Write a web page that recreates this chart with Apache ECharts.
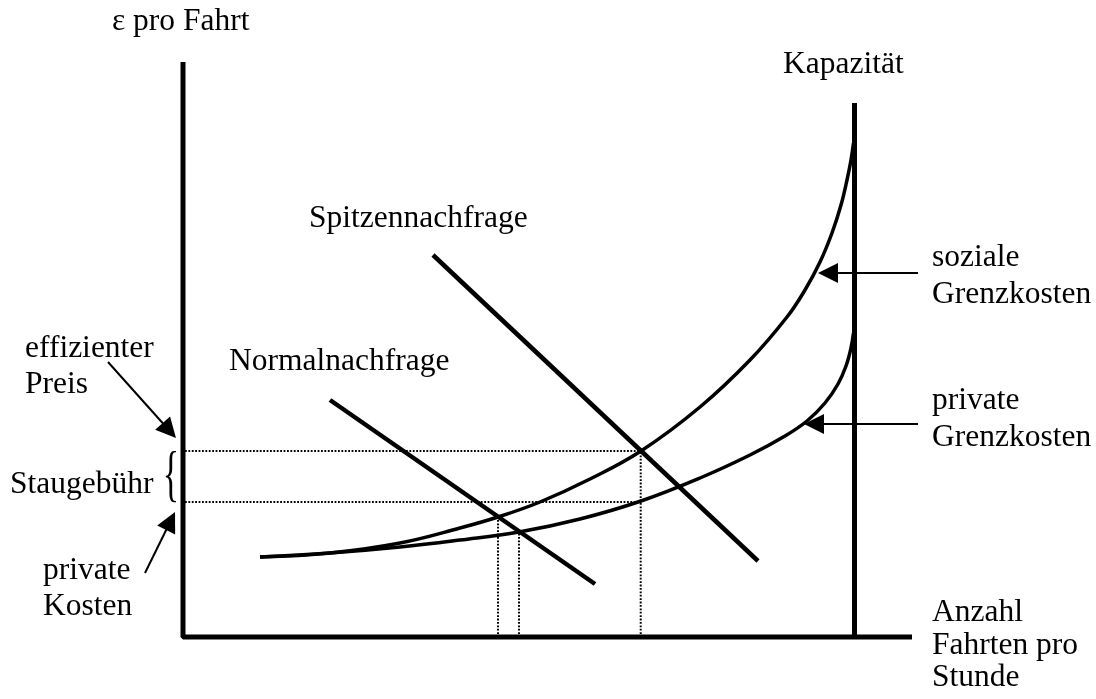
<!DOCTYPE html>
<html>
<head>
<meta charset="utf-8">
<script src="https://cdn.jsdelivr.net/npm/echarts@6/dist/echarts.min.js"></script>
<style>
  html, body { margin: 0; padding: 0; background: #fff; }
  #chart { width: 1096px; height: 699px; }
</style>
</head>
<body>
<div id="chart"></div>
<script>
// diagram units: x = trips per hour, y = price per trip (arbitrary scale)
const axisTop = 575
const axisRight = 729
const capacity = 671.5
const capacityTop = 534

const socialCost = [
  [77, 80], [147, 84], [217, 94], [277, 109], [315, 120], [357, 135], [407, 158],
  [458, 186], [517, 230], [567, 277], [604, 320], [622, 347], [637, 375],
  [649, 404], [658, 432], [664, 457], [668, 477], [670.5, 494],
]
const privateCost = [
  [77, 80], [147, 84], [217, 90], [277, 97], [336, 105], [397, 118], [458, 136],
  [517, 159], [567, 182], [602, 201], [624, 216], [642, 234], [655, 253],
  [663, 271], [668, 289], [670.5, 304],
]
const normalDemand = [[147, 237], [412, 53]]
const peakDemand = [[250, 382], [575, 76]]

// efficient price / private cost levels and the matching quantities
const priceLevels = [186, 135]
const priceLevelEnd = 457.7
const quantityMarks = [[457.7, 186], [315, 120], [336, 105]]

// arrows: [tail, head]
const arrows = [
  [[-75, 275], [-13.7, 206.5]],
  [[-38, 64], [-12.4, 116]],
  [[735, 364], [645, 364]],
  [[735, 213], [631, 213]],
]

// text lines: [text, left, baseline]
const labels = [
  ['ε pro Fahrt', 112, 32],
  ['Kapazität', 783, 75],
  ['Spitzennachfrage', 309, 229],
  ['Normalnachfrage', 229, 372],
  ['soziale', 932, 268],
  ['Grenzkosten', 932, 305],
  ['private', 932, 411],
  ['Grenzkosten', 932, 448],
  ['effizienter', 25, 359],
  ['Preis', 25, 395],
  ['Staugebühr', 10, 495],
  ['private', 43, 581],
  ['Kosten', 43, 617],
  ['Anzahl', 932, 623],
  ['Fahrten pro', 932, 656],
  ['Stunde', 932, 688],
]

const FONT = 'Liberation Serif'

function solid(data, width, smooth) {
  return {
    type: 'line',
    data: data,
    symbol: 'none',
    smooth: smooth || false,
    silent: true,
    lineStyle: { color: '#000', width: width },
  }
}

function dotted(data) {
  return {
    type: 'line',
    data: data,
    symbol: 'none',
    silent: true,
    lineStyle: { color: '#000', width: 2, type: [1.8, 1.6] },
  }
}

const series = [
  solid([[0, axisTop], [0, 0], [axisRight, 0]], 5),
  solid([[capacity, 0], [capacity, capacityTop]], 5),
  solid(socialCost, 3.5, 0.4),
  solid(privateCost, 3.5, 0.4),
  solid(normalDemand, 4.5),
  solid(peakDemand, 4.5),
]
priceLevels.forEach(y => series.push(dotted([[2, y], [priceLevelEnd, y]])))
quantityMarks.forEach(([x, y]) => series.push(dotted([[x, 3], [x, y]])))
series.push({
  type: 'lines',
  coordinateSystem: 'cartesian2d',
  silent: true,
  symbol: ['none', 'triangle'],
  symbolSize: [18, 20],
  lineStyle: { color: '#000', width: 2, opacity: 1 },
  data: arrows.map(a => ({ coords: a })),
})

const graphic = labels.map(([text, x, base]) => ({
  type: 'text',
  x: x,
  y: base - 10.5,
  silent: true,
  style: {
    text: text,
    fill: '#000',
    font: '31.5px "' + FONT + '"',
    align: 'left',
    verticalAlign: 'middle',
  },
}))
graphic.push({
  type: 'text',
  x: 171,
  y: 478,
  scaleX: 0.55,
  silent: true,
  style: {
    text: '{',
    fill: '#000',
    font: '62px "' + FONT + '"',
    align: 'center',
    verticalAlign: 'middle',
  },
})

const chart = echarts.init(document.getElementById('chart'))
chart.setOption({
  backgroundColor: '#ffffff',
  animation: false,
  grid: { left: 0, right: 0, top: 0, bottom: 0 },
  xAxis: { type: 'value', min: -183, max: 913, show: false },
  yAxis: { type: 'value', min: -62, max: 637, show: false },
  series: series,
  graphic: graphic,
})
</script>
</body>
</html>
